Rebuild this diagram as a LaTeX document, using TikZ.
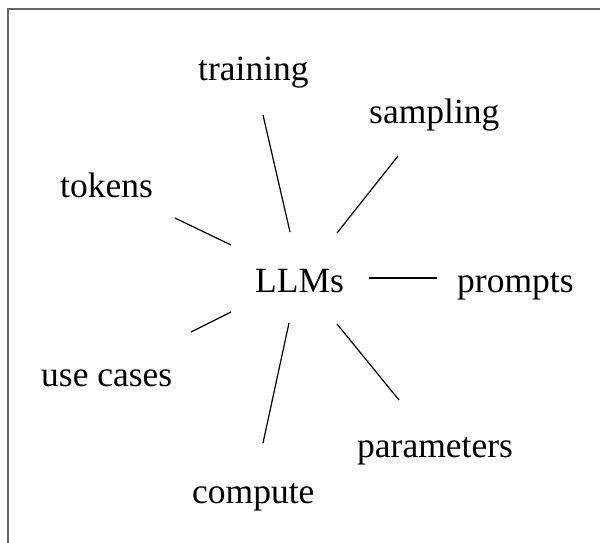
\documentclass[tikz,border=0pt]{standalone}
\usepackage{fontspec}
\setmainfont{Liberation Serif}
\begin{document}
\begin{tikzpicture}[x=1pt,y=-1pt,
  lbl/.style={anchor=base west,inner sep=0pt,font=\fontsize{35.5}{40}\selectfont},
  spoke/.style={line width=1.2pt,black},
  frame/.style={line width=2pt,draw=black!60}]
\useasboundingbox (0,0) rectangle (600,543);
% frame edges
\draw[frame] (8,543) -- (8,9.5) -- (600,9.5);
% labels
\node[lbl] (llm) at (255,292) {LLMs};
\node[lbl] (training) at (198,81) {training};
\node[lbl] (sampling) at (369,123) {sampling};
\node[lbl] (tokens) at (60,197) {tokens};
\node[lbl] (prompts) at (457,292) {prompts};
\node[lbl] (usecases) at (41,386) {use cases};
\node[lbl] (parameters) at (357,457) {parameters};
\node[lbl] (compute) at (192,503) {compute};
% spoke ends
\coordinate (tr1) at (263,115); \coordinate (tr2) at (290,232);
\coordinate (sa1) at (398,156); \coordinate (sa2) at (337,233);
\coordinate (to1) at (175,218); \coordinate (to2) at (231,245);
\coordinate (pr1) at (437,278); \coordinate (pr2) at (369,278);
\coordinate (us1) at (191,332); \coordinate (us2) at (231,312);
\coordinate (co1) at (263,443); \coordinate (co2) at (289,323);
\coordinate (pa1) at (399,400); \coordinate (pa2) at (337,324);
% spokes
\draw[spoke] (tr1) -- (tr2);
\draw[spoke] (sa1) -- (sa2);
\draw[spoke] (to1) -- (to2);
\draw[spoke] (pr1) -- (pr2);
\draw[spoke] (us1) -- (us2);
\draw[spoke] (co1) -- (co2);
\draw[spoke] (pa1) -- (pa2);
\end{tikzpicture}
\end{document}
